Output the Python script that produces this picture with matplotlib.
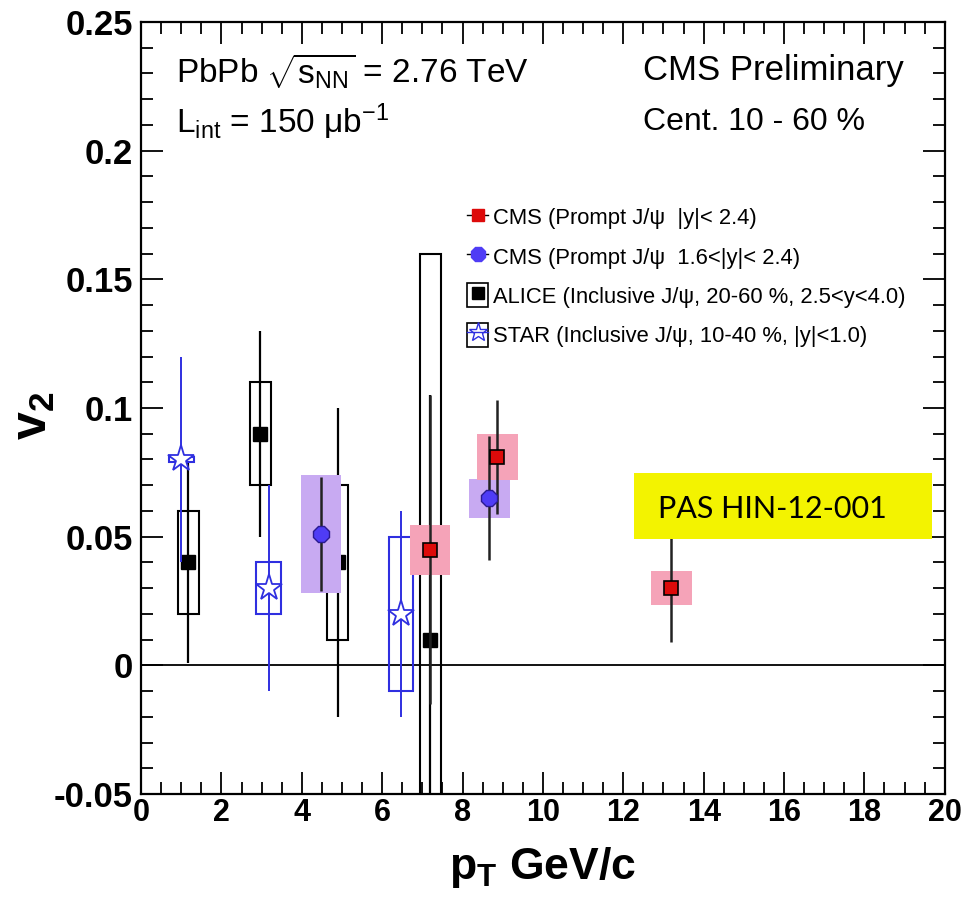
import matplotlib
matplotlib.use("Agg")
import matplotlib.pyplot as plt
from matplotlib.patches import Rectangle
from matplotlib.lines import Line2D
from matplotlib.legend_handler import HandlerTuple
from matplotlib.ticker import MultipleLocator

plt.rcParams["font.family"] = ["Liberation Sans", "DejaVu Sans"]
plt.rcParams["mathtext.fontset"] = "custom"
plt.rcParams["mathtext.rm"] = "Liberation Sans"
plt.rcParams["mathtext.it"] = "Liberation Sans:italic"
plt.rcParams["mathtext.bf"] = "Liberation Sans:bold"

# CMS prompt J/psi |y|<2.4
cms_pt = [7.2, 8.87, 13.2]
cms_v2 = [0.045, 0.081, 0.030]
cms_stat = [0.060, 0.022, 0.021]
cms_syst = [0.0097, 0.009, 0.0067]

# CMS prompt J/psi 1.6<|y|<2.4
fwd_pt = [4.48, 8.67]
fwd_v2 = [0.051, 0.065]
fwd_stat = [0.022, 0.024]
fwd_syst = [0.023, 0.0076]

# ALICE inclusive J/psi
alice_pt = [1.18, 2.97, 4.9, 7.2]
alice_v2 = [0.040, 0.090, 0.040, 0.010]
alice_stat = [0.039, 0.040, 0.060, 0.095]
alice_syst = [0.020, 0.020, 0.030, 0.150]

# STAR inclusive J/psi
star_pt = [1.0, 3.18, 6.47]
star_v2 = [0.080, 0.030, 0.020]
star_stat = [0.040, 0.040, 0.040]
star_syst = [0.001, 0.010, 0.030]

RED = "#dd0a0a"
PINK = "#f5a3b8"
BLUE = "#4f3cf5"
LAVENDER = "#c8aaf2"
STAR_BLUE = "#2f2fe0"
YELLOW = "#f3f300"

fig = plt.figure(figsize=(9.66, 9.09), dpi=100)
ax = fig.add_axes([0.146, 0.1265, 0.832, 0.8493])
ax.set_xlim(0, 20)
ax.set_ylim(-0.05, 0.25)


def boxes(xs, ys, syst, half, z, **kw):
    for x, y, s in zip(xs, ys, syst):
        ax.add_patch(Rectangle((x - half, y - s), 2 * half, 2 * s, zorder=z, **kw))


# ALICE
boxes(alice_pt, alice_v2, alice_syst, 0.26, 2, fill=False, edgecolor="black", lw=1.5)
ax.errorbar(alice_pt, alice_v2, yerr=alice_stat, fmt="none", ecolor="black",
            elinewidth=1.6, zorder=2)
ax.plot(alice_pt, alice_v2, ls="none", marker="s", ms=9.5, color="black", zorder=2)

# STAR
boxes(star_pt, star_v2, star_syst, 0.31, 3, fill=False, edgecolor=STAR_BLUE, lw=1.5)
ax.errorbar(star_pt, star_v2, yerr=star_stat, fmt="none", ecolor=STAR_BLUE,
            elinewidth=1.4, zorder=3)
ax.plot(star_pt, star_v2, ls="none", marker="*", ms=20, mfc="white",
        mec=STAR_BLUE, mew=1.3, zorder=3)

# CMS
boxes(fwd_pt, fwd_v2, fwd_syst, 0.5, 4, color=LAVENDER, lw=0)
boxes(cms_pt, cms_v2, cms_syst, 0.5, 4, color=PINK, lw=0)
ax.errorbar(fwd_pt, fwd_v2, yerr=fwd_stat, fmt="none", ecolor="#222222",
            elinewidth=1.8, zorder=5)
ax.errorbar(cms_pt, cms_v2, yerr=cms_stat, fmt="none", ecolor="#222222",
            elinewidth=1.8, zorder=5)
ax.plot(fwd_pt, fwd_v2, ls="none", marker="8", ms=13, mfc=BLUE, mec="#2a1a90",
        mew=1, zorder=6)
ax.plot(cms_pt, cms_v2, ls="none", marker="s", ms=10, mfc=RED, mec="black",
        mew=1.2, zorder=6)

ax.axhline(0, color="black", lw=1.3, zorder=1)

# yellow tag
ax.add_patch(Rectangle((12.27, 0.0492), 7.42, 0.0254, color=YELLOW, lw=0, zorder=7))
ax.text(12.86, 0.0606, "PAS HIN-12-001", family=["Lato", "DejaVu Sans"],
        fontsize=22, va="center", ha="left", zorder=8)

# header texts
ax.text(0.044, 0.963, r"PbPb $\sqrt{\mathrm{s}_{\mathrm{NN}}}$ = 2.76 TeV",
        transform=ax.transAxes, fontsize=24, va="top", ha="left")
ax.text(0.044, 0.897, r"L$_{\mathrm{int}}$ = 150 μb$^{-1}$", transform=ax.transAxes,
        fontsize=24, va="top", ha="left")
ax.text(0.625, 0.958, "CMS Preliminary", transform=ax.transAxes,
        fontsize=25, va="top", ha="left")
ax.text(0.625, 0.89, "Cent. 10 - 60 %", transform=ax.transAxes,
        fontsize=23, va="top", ha="left")

# legend
h_cms = Line2D([], [], color="black", lw=1, marker="s", ms=9, mfc=RED, mec=RED)
h_fwd = Line2D([], [], color="black", lw=1, marker="8", ms=11, mfc=BLUE, mec=BLUE)
h_alice = (Rectangle((0, 0), 1, 1, fill=False, ec="black", lw=1.2),
           Line2D([], [], ls="none", marker="s", ms=9, color="black"))
h_star = (Rectangle((0, 0), 1, 1, fill=False, ec="black", lw=1.2),
          Line2D([], [], color=STAR_BLUE, lw=1, marker="*", ms=14, mfc="none",
                 mec=STAR_BLUE))
labels = ["CMS (Prompt J/ψ  |y|< 2.4)",
          "CMS (Prompt J/ψ  1.6<|y|< 2.4)",
          "ALICE (Inclusive J/ψ, 20-60 %, 2.5<y<4.0)",
          "STAR (Inclusive J/ψ, 10-40 %, |y|<1.0)"]
ax.legend([h_cms, h_fwd, h_alice, h_star], labels, loc="upper left",
          bbox_to_anchor=(0.405, 0.763), frameon=False, fontsize=15.8,
          handlelength=1.0, handleheight=1.3, handletextpad=0.2,
          labelspacing=0.68, borderpad=0, borderaxespad=0,
          handler_map={tuple: HandlerTuple(ndivide=1, pad=0)})

# axes styling
ax.xaxis.set_major_locator(MultipleLocator(2))
ax.xaxis.set_minor_locator(MultipleLocator(0.5))
ax.yaxis.set_major_locator(MultipleLocator(0.05))
ax.yaxis.set_minor_locator(MultipleLocator(0.01))
ax.tick_params(which="both", direction="in", top=True, right=True, width=1.3)
ax.tick_params(which="major", length=16)
ax.tick_params(which="minor", length=8.5)
ax.tick_params(axis="x", which="major", labelsize=22, pad=3)
ax.tick_params(axis="y", which="major", labelsize=25, pad=6)
ax.set_yticks([-0.05, 0, 0.05, 0.1, 0.15, 0.2, 0.25])
ax.set_yticklabels(["-0.05", "0", "0.05", "0.1", "0.15", "0.2", "0.25"],
                   fontweight="bold")
ax.set_xticks(range(0, 21, 2))
ax.set_xticklabels([str(v) for v in range(0, 21, 2)], fontweight="bold")
for sp in ax.spines.values():
    sp.set_linewidth(1.6)

ax.set_xlabel(r"$\mathbf{p}_{\mathbf{T}}$ GeV/c", fontsize=32, fontweight="bold",
              labelpad=12)
ax.set_ylabel(r"$\mathbf{v}_{\mathbf{2}}$", fontsize=36, fontweight="bold")
ax.yaxis.set_label_coords(-0.105, 0.49)

fig.savefig("out.png", dpi=100)
